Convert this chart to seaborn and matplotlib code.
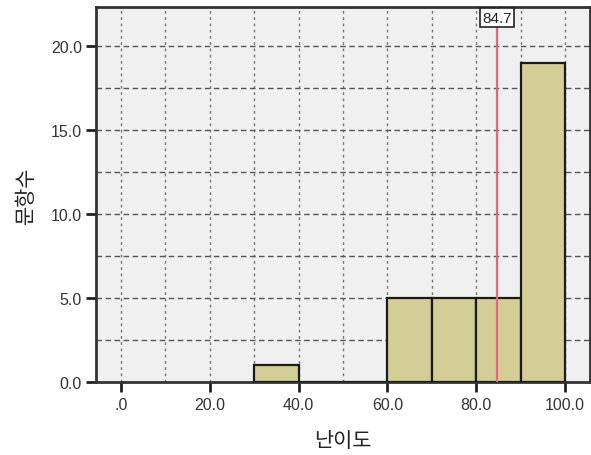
import matplotlib
matplotlib.use("Agg")
import matplotlib.pyplot as plt
import seaborn as sns
import numpy as np

bin_edges = [30, 40, 50, 60, 70, 80, 90, 100]
counts = [1, 0, 0, 5, 5, 5, 19]
mean_value = 84.7
x_ticks = [0, 20, 40, 60, 80, 100]
x_tick_labels = [".0", "20.0", "40.0", "60.0", "80.0", "100.0"]
y_ticks = [0, 5, 10, 15, 20]
y_tick_labels = ["0.0", "5.0", "10.0", "15.0", "20.0"]

sns.set_style("white")
plt.rcParams['font.family'] = ['Liberation Sans', 'Noto Sans CJK KR', 'DejaVu Sans']

fig = plt.figure(figsize=(5.91, 4.56), dpi=100)
ax = fig.add_axes([0.1624, 0.160, 0.836, 0.822])
ax.set_facecolor("#f0f0f0")

centers = [(a + b) / 2 for a, b in zip(bin_edges[:-1], bin_edges[1:])]
sns.histplot(x=centers, weights=counts, bins=bin_edges, ax=ax,
             color="#d3ce96", alpha=1, edgecolor="#1a1a1a", linewidth=1.6, zorder=3)

ax.set_xlim(-5.6, 105.6)
ax.set_ylim(0, 22.3)

for gx in range(0, 101, 10):
    ax.axvline(gx, color="#777777", linestyle=(0, (2, 2.5)), linewidth=1.0, zorder=1)
for gy in np.arange(2.5, 22.3, 2.5):
    ax.axhline(gy, color="#555555", linestyle=(0, (4, 2.5)), linewidth=1.0, zorder=1)

ax.axvline(mean_value, color="#f0607a", linewidth=1.6, zorder=4)
ax.text(mean_value, 22.3 - 0.2, f"{mean_value}", ha="center", va="top", fontsize=11,
        color="#222222", zorder=5,
        bbox=dict(boxstyle="square,pad=0.15", facecolor="white", edgecolor="#222222", linewidth=1.2))

ax.set_xticks(x_ticks)
ax.set_xticklabels(x_tick_labels)
ax.set_yticks(y_ticks)
ax.set_yticklabels(y_tick_labels)
ax.tick_params(axis="both", direction="out", length=7, width=2, color="#222222",
               labelsize=11.5, labelcolor="#333333", pad=3)
ax.tick_params(axis="x", bottom=True, pad=4)
ax.tick_params(axis="y", left=True)

for s in ax.spines.values():
    s.set_linewidth(2)
    s.set_color("#333333")

ax.set_xlabel("난이도", fontsize=15, family=['Noto Sans CJK KR'], labelpad=12, color="#222222")
ax.set_ylabel("문항수", fontsize=15, family=['Noto Sans CJK KR'], labelpad=10, color="#222222")

fig.savefig("out.png", dpi=100)
